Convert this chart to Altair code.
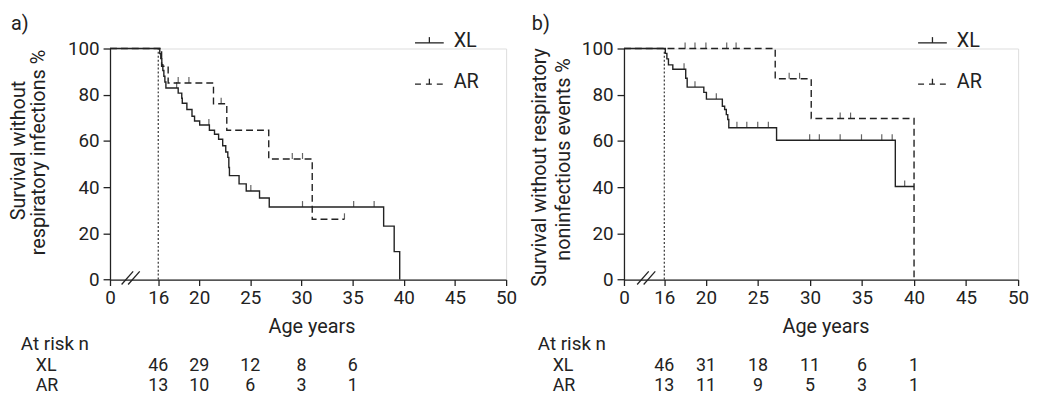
import altair as alt
import pandas as pd

FONT = "Roboto"
INK = "#222222"

TICKS_X = [0, 16, 20, 25, 30, 35, 40, 45, 50]
TICKS_Y = [0, 20, 40, 60, 80, 100]

# ---------------- Panel a: respiratory infections ----------------
A_XL_T = [0, 16.15, 16.25, 16.35, 16.45, 16.55, 16.65, 16.75, 17.95, 18.3, 18.35, 18.8, 19.3, 19.55,
          20.05, 21.0, 21.5, 21.9, 22.3, 22.6, 22.8, 22.9, 22.96, 23.9, 24.6, 25.9, 26.85, 38.03,
          39.06, 39.6]
A_XL_S = [100, 97.8, 95.6, 93.0, 90.5, 88.0, 85.5, 82.9, 80.7, 78.5, 76.3, 73.6, 70.7, 68.6,
          66.9, 64.6, 62.9, 60.7, 57.9, 55.2, 52.9, 48.5, 45.0, 41.4, 38.3, 35.3, 31.4, 23.1,
          12.1, 0]
A_XL_CENS = [17.8, 20.95, 25.05, 30.1, 35.1, 37.1]

A_AR_T = [0, 16.33, 16.97, 21.4, 22.7, 26.8, 31.05, 34.2]
A_AR_S = [100, 92.3, 85.1, 76.1, 64.6, 52.2, 26.1, 26.1]
A_AR_CENS = [17.95, 19.0, 22.15, 29.1, 30.1, 34.2]

A_RISK_T = [16, 20, 25, 30, 35]
A_RISK_XL = [46, 29, 12, 8, 6]
A_RISK_AR = [13, 10, 6, 3, 1]

# ---------------- Panel b: respiratory noninfectious events ----------------
B_XL_T = [0, 16.1, 16.25, 16.4, 16.82, 18.06, 18.2, 19.8, 20.05, 21.58, 21.8, 21.96, 22.1,
          22.2, 26.79, 38.2, 40.0]
B_XL_S = [100, 97.9, 95.5, 92.9, 91.0, 87.1, 83.3, 81.0, 78.1, 75.0, 73.6, 71.4, 69.3,
          65.7, 60.3, 40.3, 40.3]
B_XL_CENS = [17.9, 18.95, 21.0, 22.98, 23.93, 24.98, 26.0, 29.97, 30.9, 32.9, 34.95, 36.9,
             37.9, 39.1]

B_AR_T = [0, 26.66, 30.12, 40.0]
B_AR_S = [100, 86.9, 69.7, 0]
B_AR_CENS = [18.0, 18.95, 20.0, 22.0, 22.9, 28.0, 29.0, 32.9, 33.9]

B_RISK_T = [16, 20, 25, 30, 35, 40]
B_RISK_XL = [46, 31, 18, 11, 6, 1]
B_RISK_AR = [13, 11, 9, 5, 3, 1]

H = 233.3


def surv_at(ts, ss, t):
    v = ss[0]
    for ti, si in zip(ts, ss):
        if ti <= t:
            v = si
        else:
            break
    return v


def txt(label, x, y, size=20, align="left", angle=0):
    return alt.Chart(pd.DataFrame({"label": [label]})).mark_text(
        font=FONT, fontSize=size, color=INK, align=align, baseline="middle", angle=angle
    ).encode(x=alt.value(x), y=alt.value(y), text="label:N")


def seg(x, x2, y, y2, dash=None, width=1.3):
    kw = dict(color=INK, strokeWidth=width)
    if dash:
        kw["strokeDash"] = dash
    return alt.Chart(pd.DataFrame({"d": [0]})).mark_rule(**kw).encode(
        x=alt.value(x), x2=alt.value(x2), y=alt.value(y), y2=alt.value(y2))


def panel(letter, W, p16, xl_t, xl_s, xl_c, ar_t, ar_s, ar_c, risk_t, risk_xl, risk_ar,
          ytitles, geo):
    xs = alt.Scale(domain=[0, 16, 50], range=[0, p16, W], nice=False, zero=False)
    ys = alt.Scale(domain=[0, 100], nice=False)
    xaxis = alt.Axis(values=TICKS_X, title=None, grid=False, tickSize=6, labelPadding=3,
                     labelFontSize=19, labelFont=FONT, labelColor=INK, domainColor=INK,
                     tickColor=INK, domainWidth=1.3, tickWidth=1.3, labelFlush=False,
                     labelOverlap=False)
    yaxis = alt.Axis(values=TICKS_Y, title=None, grid=False, tickSize=7, labelPadding=4,
                     labelFontSize=19, labelFont=FONT, labelColor=INK, domainColor=INK,
                     tickColor=INK, domainWidth=1.3, tickWidth=1.3, labelFlush=False)
    X = alt.X("t:Q", scale=xs, axis=xaxis)
    Y = alt.Y("s:Q", scale=ys, axis=yaxis)

    xl_df = pd.DataFrame({"t": xl_t, "s": xl_s})
    ar_df = pd.DataFrame({"t": ar_t, "s": ar_s})
    xl_c_df = pd.DataFrame({"t": xl_c, "s": [surv_at(xl_t, xl_s, c) for c in xl_c]})
    ar_c_df = pd.DataFrame({"t": ar_c, "s": [surv_at(ar_t, ar_s, c) for c in ar_c]})

    layers = []
    # dotted line at age 16
    layers.append(alt.Chart(pd.DataFrame({"t": [16], "s": [0], "s2": [100]})).mark_rule(
        color=INK, strokeWidth=1.1, strokeDash=[2, 2]).encode(x=X, y=Y, y2="s2:Q"))
    layers.append(alt.Chart(ar_df).mark_line(interpolate="step-after", color=INK,
                                             strokeWidth=1.4, strokeDash=[7, 4]).encode(x=X, y=Y))
    layers.append(alt.Chart(xl_df).mark_line(interpolate="step-after", color=INK,
                                             strokeWidth=1.4).encode(x=X, y=Y))
    layers.append(alt.Chart(ar_c_df).mark_tick(orient="vertical", size=6, thickness=1.2,
                                               yOffset=-3, color=INK).encode(x=X, y=Y))
    layers.append(alt.Chart(xl_c_df).mark_tick(orient="vertical", size=6, thickness=1.2,
                                               yOffset=-3, color=INK).encode(x=X, y=Y))
    # axis break marks
    bx = geo["brk"]
    layers.append(seg(bx, bx + 11.7, H + 5, H - 8.3))
    layers.append(seg(bx + 6.6, bx + 18.3, H + 5, H - 8.3))
    # legend
    lx = geo["leg"]
    layers.append(seg(lx, lx + 29, -5.7, -5.7))
    layers.append(seg(lx + 14.5, lx + 14.5, -5.7, -11.5))
    layers.append(txt("XL", lx + 39, -7.4))
    layers.append(seg(lx, lx + 29, 36, 36, dash=[6, 5]))
    layers.append(seg(lx + 14.5, lx + 14.5, 36, 30.5))
    layers.append(txt("AR", lx + 39, 34.3))
    # panel letter
    layers.append(txt(letter, geo["letter"], -25))
    # y titles
    for (t, x, y) in ytitles:
        layers.append(txt(t, x, y, align="center", angle=270))
    # x title
    layers.append(txt("Age years", 204, H + 48, align="center"))
    # at-risk table
    layers.append(txt("At risk n", geo["risk"], H + 65, size=19))
    layers.append(txt("XL", geo["risk"] + 15, H + 87, size=18))
    layers.append(txt("AR", geo["risk"] + 15, H + 108, size=18))
    rxl = pd.DataFrame({"t": risk_t, "n": [str(v) for v in risk_xl]})
    rar = pd.DataFrame({"t": risk_t, "n": [str(v) for v in risk_ar]})
    layers.append(alt.Chart(rxl).mark_text(font=FONT, fontSize=18, color=INK, align="center",
                                           baseline="middle").encode(
        x=X, y=alt.value(H + 87), text="n:N"))
    layers.append(alt.Chart(rar).mark_text(font=FONT, fontSize=18, color=INK, align="center",
                                           baseline="middle").encode(
        x=X, y=alt.value(H + 108), text="n:N"))
    return alt.layer(*layers).properties(width=W, height=H)


pa = panel("a)", 400, 48.7, A_XL_T, A_XL_S, A_XL_CENS, A_AR_T, A_AR_S, A_AR_CENS,
           A_RISK_T, A_RISK_XL, A_RISK_AR,
           [("Survival without", -91.5, 103), ("respiratory infections %", -71.5, 105)],
           {"brk": 11.7, "leg": 308, "letter": -100, "risk": -90})
pb = panel("b)", 398, 40.7, B_XL_T, B_XL_S, B_XL_CENS, B_AR_T, B_AR_S, B_AR_CENS,
           B_RISK_T, B_RISK_XL, B_RISK_AR,
           [("Survival without  respiratory", -84.5, 120), ("noninfectious events %", -60.5, 112)],
           {"brk": 13.3, "leg": 297, "letter": -93, "risk": -87})

chart = alt.hconcat(pa, pb, spacing=119, bounds="flush").properties(
    padding={"left": 1, "top": 3, "right": 0, "bottom": 0}
).configure_view(stroke=None).configure(background="white")

chart.save("out.html", embed_options={"renderer": "svg", "actions": False})
